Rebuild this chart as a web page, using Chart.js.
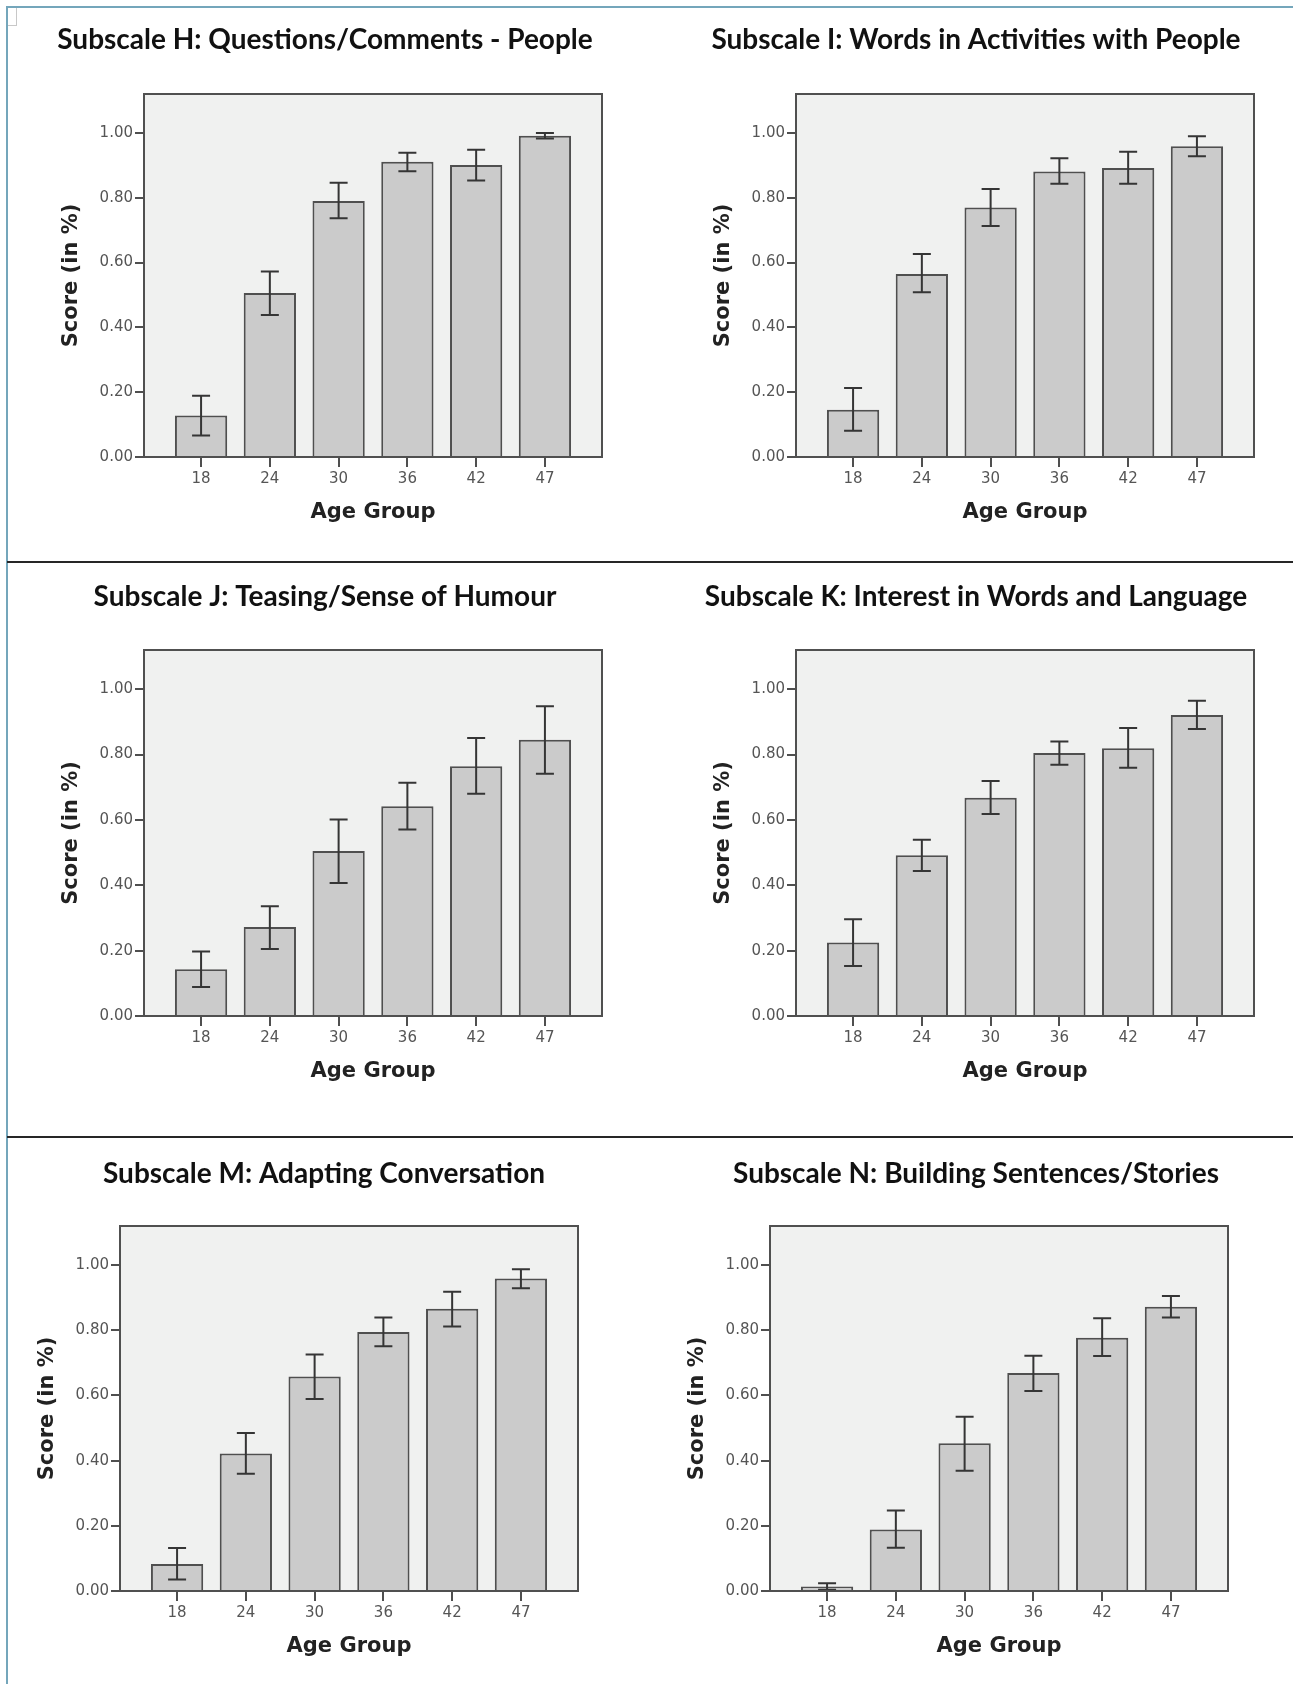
<!DOCTYPE html>
<html>
<head>
<meta charset="utf-8">
<script src="https://cdn.jsdelivr.net/npm/chart.js@4.4.0/dist/chart.umd.min.js"></script>
<style>
  html, body { margin: 0; padding: 0; background: #fff; }
  #page { position: relative; width: 1293px; height: 1684px; overflow: hidden; }
  .panel { position: absolute; }
  .rule { position: absolute; left: 7px; right: 0; height: 2px; background: #262626; }
  #edge { position: absolute; left: 6px; top: 6px; right: -4px; bottom: -4px; border-left: 2px solid #74a6bb; border-top: 2px solid #74a6bb; }
  #corner { position: absolute; left: 8px; top: 8px; width: 8px; height: 17px; border-right: 1px solid #c8c8c8; border-bottom: 1px solid #c8c8c8; }
</style>
</head>
<body>
<div id="page">
  <div id="edge"></div>
  <div id="corner"></div>
  <div class="rule" style="top:561px"></div>
  <div class="rule" style="top:1136px"></div>
</div>
<script>
var ageGroups = ['18', '24', '30', '36', '42', '47'];
var yTickValues = [0, 0.2, 0.4, 0.6, 0.8, 1.0];

// mean score per age group, with lower / upper error bar ends
var meanH = [0.128, 0.506, 0.790, 0.911, 0.901, 0.991];
var lowH  = [0.066, 0.438, 0.737, 0.882, 0.853, 0.983];
var highH = [0.189, 0.572, 0.846, 0.939, 0.948, 1.000];

var meanI = [0.146, 0.565, 0.770, 0.881, 0.892, 0.959];
var lowI  = [0.081, 0.508, 0.713, 0.843, 0.843, 0.928];
var highI = [0.213, 0.626, 0.827, 0.922, 0.942, 0.990];

var meanJ = [0.143, 0.272, 0.505, 0.642, 0.764, 0.845];
var lowJ  = [0.089, 0.205, 0.407, 0.571, 0.680, 0.741];
var highJ = [0.197, 0.336, 0.601, 0.714, 0.851, 0.948];

var meanK = [0.225, 0.492, 0.668, 0.805, 0.819, 0.921];
var lowK  = [0.153, 0.444, 0.618, 0.769, 0.760, 0.878];
var highK = [0.296, 0.539, 0.719, 0.840, 0.881, 0.965];

var meanM = [0.083, 0.422, 0.658, 0.795, 0.866, 0.959];
var lowM  = [0.035, 0.360, 0.589, 0.751, 0.812, 0.929];
var highM = [0.132, 0.485, 0.726, 0.839, 0.918, 0.987];

var meanN = [0.014, 0.189, 0.453, 0.669, 0.777, 0.872];
var lowN  = [0.004, 0.133, 0.369, 0.614, 0.721, 0.839];
var highN = [0.024, 0.247, 0.535, 0.722, 0.837, 0.905];

// frame = [left, right, top, bottom] of the plot box on the page, titleAt = title centre
var panels = [
  { title: 'Subscale H: Questions/Comments - People', mean: meanH, low: lowH, high: highH, frame: [144, 602, 94, 457], titleAt: [325, 40] },
  { title: 'Subscale I: Words in Activities with People', mean: meanI, low: lowI, high: highI, frame: [796, 1254, 94, 457], titleAt: [976, 40] },
  { title: 'Subscale J: Teasing/Sense of Humour', mean: meanJ, low: lowJ, high: highJ, frame: [144, 602, 650, 1016], titleAt: [325, 597] },
  { title: 'Subscale K: Interest in Words and Language', mean: meanK, low: lowK, high: highK, frame: [796, 1254, 650, 1016], titleAt: [976, 597] },
  { title: 'Subscale M: Adapting Conversation', mean: meanM, low: lowM, high: highM, frame: [120, 578, 1226, 1591], titleAt: [324, 1174] },
  { title: 'Subscale N: Building Sentences/Stories', mean: meanN, low: lowN, high: highN, frame: [770, 1228, 1226, 1591], titleAt: [976, 1174] }
];

Chart.defaults.font.family = '"DejaVu Sans", sans-serif';

var boxPlugin = {
  id: 'panelBox',
  beforeDraw: function (chart) {
    var a = chart.chartArea, ctx = chart.ctx;
    ctx.save();
    ctx.fillStyle = '#f0f1f0';
    ctx.fillRect(a.left, a.top, a.right - a.left, a.bottom - a.top);
    ctx.restore();
  },
  afterDatasetsDraw: function (chart) {
    var ctx = chart.ctx, a = chart.chartArea;
    var xs = chart.scales.x, ys = chart.scales.y;
    var ds = chart.data.datasets[0];
    ctx.save();
    ctx.strokeStyle = '#353535';
    ctx.lineWidth = 2;
    ctx.beginPath();
    for (var i = 0; i < ds.errLow.length; i++) {
      var x = xs.getPixelForValue(i);
      var y1 = ys.getPixelForValue(ds.errLow[i]);
      var y2 = ys.getPixelForValue(ds.errHigh[i]);
      ctx.moveTo(x, y1); ctx.lineTo(x, y2);
      ctx.moveTo(x - 9, y1); ctx.lineTo(x + 9, y1);
      ctx.moveTo(x - 9, y2); ctx.lineTo(x + 9, y2);
    }
    ctx.stroke();
    ctx.strokeStyle = '#505050';
    ctx.strokeRect(a.left, a.top, a.right - a.left, a.bottom - a.top);
    ctx.restore();
  },
  afterDraw: function (chart, args, opts) {
    var ctx = chart.ctx;
    ctx.save();
    ctx.font = 'bold 28px Lato, sans-serif';
    ctx.fillStyle = '#111';
    ctx.textAlign = 'center';
    ctx.textBaseline = 'middle';
    ctx.fillText(opts.text, opts.x, opts.y);
    ctx.restore();
  }
};

var page = document.getElementById('page');

panels.forEach(function (p) {
  var l = p.frame[0], r = p.frame[1], t = p.frame[2], b = p.frame[3];
  var cl = l - 110, ct = t - 94;
  var cw = r - cl + 4, ch = b - ct + 72;

  var wrap = document.createElement('div');
  wrap.className = 'panel';
  wrap.style.left = cl + 'px';
  wrap.style.top = ct + 'px';
  wrap.style.width = cw + 'px';
  wrap.style.height = ch + 'px';
  var canvas = document.createElement('canvas');
  wrap.appendChild(canvas);
  page.appendChild(wrap);

  new Chart(canvas, {
    type: 'bar',
    data: {
      datasets: [{
        data: p.mean.map(function (v, i) { return { x: i, y: v }; }),
        errLow: p.low,
        errHigh: p.high,
        backgroundColor: '#cbcbcb',
        borderColor: '#4f4f4f',
        borderWidth: 2,
        borderSkipped: 'bottom',
        categoryPercentage: 1,
        barPercentage: 0.76
      }]
    },
    options: {
      responsive: true,
      maintainAspectRatio: false,
      animation: false,
      layout: { padding: { left: 10, top: 94, right: 4, bottom: 0 } },
      plugins: {
        legend: { display: false },
        tooltip: { enabled: false },
        panelBox: { text: p.title, x: p.titleAt[0] - cl, y: p.titleAt[1] - ct }
      },
      scales: {
        x: {
          type: 'linear',
          min: -0.83,
          max: 5.83,
          offset: false,
          border: { display: false },
          grid: { offset: false, drawOnChartArea: false, tickLength: 10, lineWidth: 2, color: '#4f4f4f' },
          afterBuildTicks: function (s) { s.ticks = ageGroups.map(function (a, i) { return { value: i }; }); },
          ticks: {
            callback: function (v) { return ageGroups[v]; },
            padding: 3, color: '#555', font: { size: 15 }, maxRotation: 0, autoSkip: false
          },
          title: { display: true, text: 'Age Group', color: '#222', font: { size: 21, weight: 'bold' }, padding: { top: 0, bottom: 4 } },
          afterFit: function (s) { s.height = 72; }
        },
        y: {
          min: 0,
          max: 1.12,
          border: { display: false },
          grid: { drawOnChartArea: false, tickLength: 9, lineWidth: 2, color: '#4f4f4f' },
          afterBuildTicks: function (s) { s.ticks = yTickValues.map(function (v) { return { value: v }; }); },
          ticks: {
            callback: function (v) { return v.toFixed(2); },
            padding: 2, color: '#555', font: { size: 15 }, autoSkip: false
          },
          title: { display: true, text: 'Score (in %)', color: '#222', font: { size: 21, weight: 'bold' }, padding: { top: 15, bottom: 0 } },
          afterFit: function (s) { s.width = 100; }
        }
      }
    },
    plugins: [boxPlugin]
  });
});
</script>
</body>
</html>
